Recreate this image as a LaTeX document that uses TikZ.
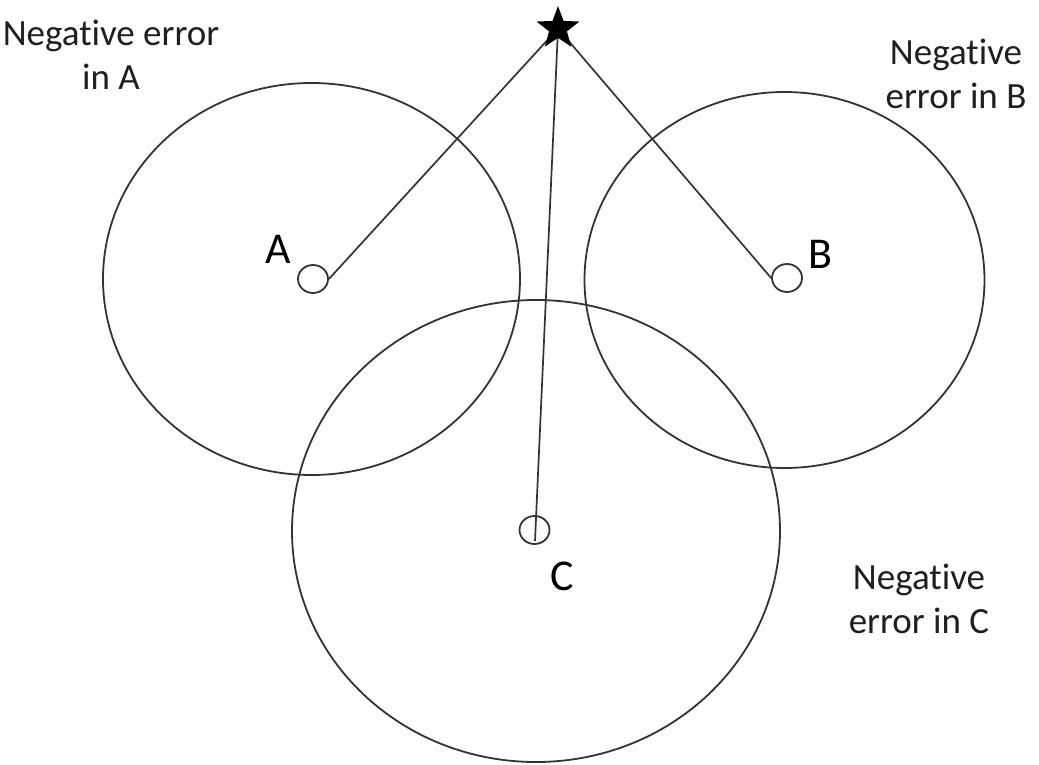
\documentclass[tikz,border=0pt]{standalone}
\usepackage{fontspec}
\setmainfont{Carlito}[Ligatures=NoCommon]
\usetikzlibrary{shapes.geometric}
\begin{document}
\begin{tikzpicture}[x=1pt,y=-1pt,
  ring/.style={draw=black!80, line width=1.8pt, ellipse, inner sep=0pt},
  dot/.style={draw=black!80, line width=1.8pt, ellipse, inner sep=0pt, minimum width=30pt, minimum height=28pt},
  ray/.style={draw=black!80, line width=1.7pt},
  starmark/.style={star, star points=5, star point ratio=2.4, minimum size=45pt, inner sep=0pt, fill=black},
  letter/.style={font=\fontsize{44}{52}\selectfont, text=black, inner sep=0pt, anchor=base},
  note/.style={font=\fontsize{37}{44}\selectfont, text=black!88, align=center, inner sep=0pt}
]
\useasboundingbox (0,0) rectangle (1039,765);
% big rings
\node[ring, minimum width=417pt, minimum height=392pt] (ringA) at (311.5,279) {};
\node[ring, minimum width=400pt, minimum height=376pt] (ringB) at (784.5,280) {};
\node[ring, minimum width=488pt, minimum height=462pt] (ringC) at (536,531) {};
% small dots
\node[dot] (dotA) at (313,279) {};
\node[dot] (dotB) at (787,278) {};
\node[dot] (dotC) at (534.5,530) {};
% star centre and C end
\coordinate (starc) at (558,28.5);
\coordinate (cend) at (535,541);
% rays
\draw[ray] (dotA.east) -- (starc);
\draw[ray] (dotB.west) -- (starc);
\draw[ray] (starc) -- (cend);
% star on top
\node[starmark] (star) at (starc) {};
% letters
\node[letter] (labA) at (278.5,263) {A};
\node[letter] (labB) at (820,268) {B};
\node[letter] (labC) at (562,590) {C};
% notes
\node[note] (noteA) at (111,55) {Negative error\\in A};
\node[note] (noteB) at (956,73.5) {Negative\\error in B};
\node[note] (noteC) at (919,598.5) {Negative\\error in C};
\end{tikzpicture}
\end{document}
